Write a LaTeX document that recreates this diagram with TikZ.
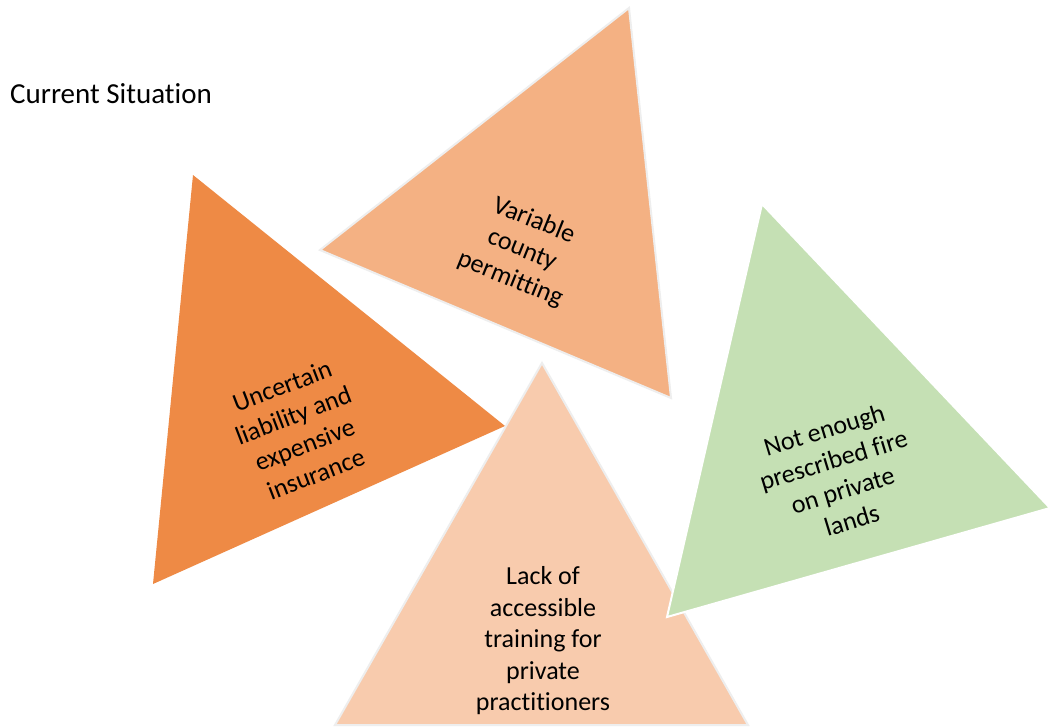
\documentclass[tikz,border=0pt]{standalone}
\usepackage{fontspec}
\setmainfont[Ligatures=NoCommon]{Carlito}
\definecolor{darkorange}{HTML}{EE8A45}
\definecolor{lightorange}{HTML}{F4B183}
\definecolor{peach}{HTML}{F8CBAD}
\definecolor{softgreen}{HTML}{C5E0B4}
\definecolor{edgegrey}{HTML}{EEEEEE}
\begin{document}
\begin{tikzpicture}[x=1pt,y=-1pt,
  tri/.style={draw=edgegrey, line width=2pt, line join=miter},
  lbl/.style={align=center, font=\fontsize{26}{31.5}\selectfont, inner sep=0pt, text=black}]
\useasboundingbox (0,0) rectangle (1050,728);
\fill[white] (0,0) rectangle (1050,728);
% vertices
\coordinate (b1) at (629,8);
\coordinate (b2) at (320,250);
\coordinate (b3) at (671,398);
\coordinate (a1) at (193,175);
\coordinate (a2) at (505,426);
\coordinate (a3) at (153,584);
\coordinate (c1) at (542,363);
\coordinate (c2) at (335,725);
\coordinate (c3) at (748,725);
\coordinate (d1) at (762,204);
\coordinate (d2) at (1050,508);
\coordinate (d3) at (667,617);
% triangles
\filldraw[tri, fill=lightorange] (b1) -- (b2) -- (b3) -- cycle;
\fill[darkorange] (a1) -- (a2) -- (a3) -- cycle;
\filldraw[tri, fill=peach] (c1) -- (c2) -- (c3) -- cycle;
\filldraw[tri, draw=white, fill=softgreen] (d1) -- (d2) -- (d3) -- cycle;
% labels
\node[anchor=base west, font=\fontsize{29}{34}\selectfont, inner sep=0pt] (title) at (10,103) {Current Situation};
\node[lbl, rotate=-22] (tb) at (522,250) {Variable\\county\\permitting};
\node[lbl, rotate=21] (ta) at (299,430) {Uncertain\\liability and\\expensive\\insurance};
\node[lbl] (tc) at (543,641) {Lack of\\accessible\\training for\\private\\practitioners};
\node[lbl, rotate=17] (td) at (838,475) {Not enough\\prescribed fire\\on private\\lands};
\end{tikzpicture}
\end{document}
